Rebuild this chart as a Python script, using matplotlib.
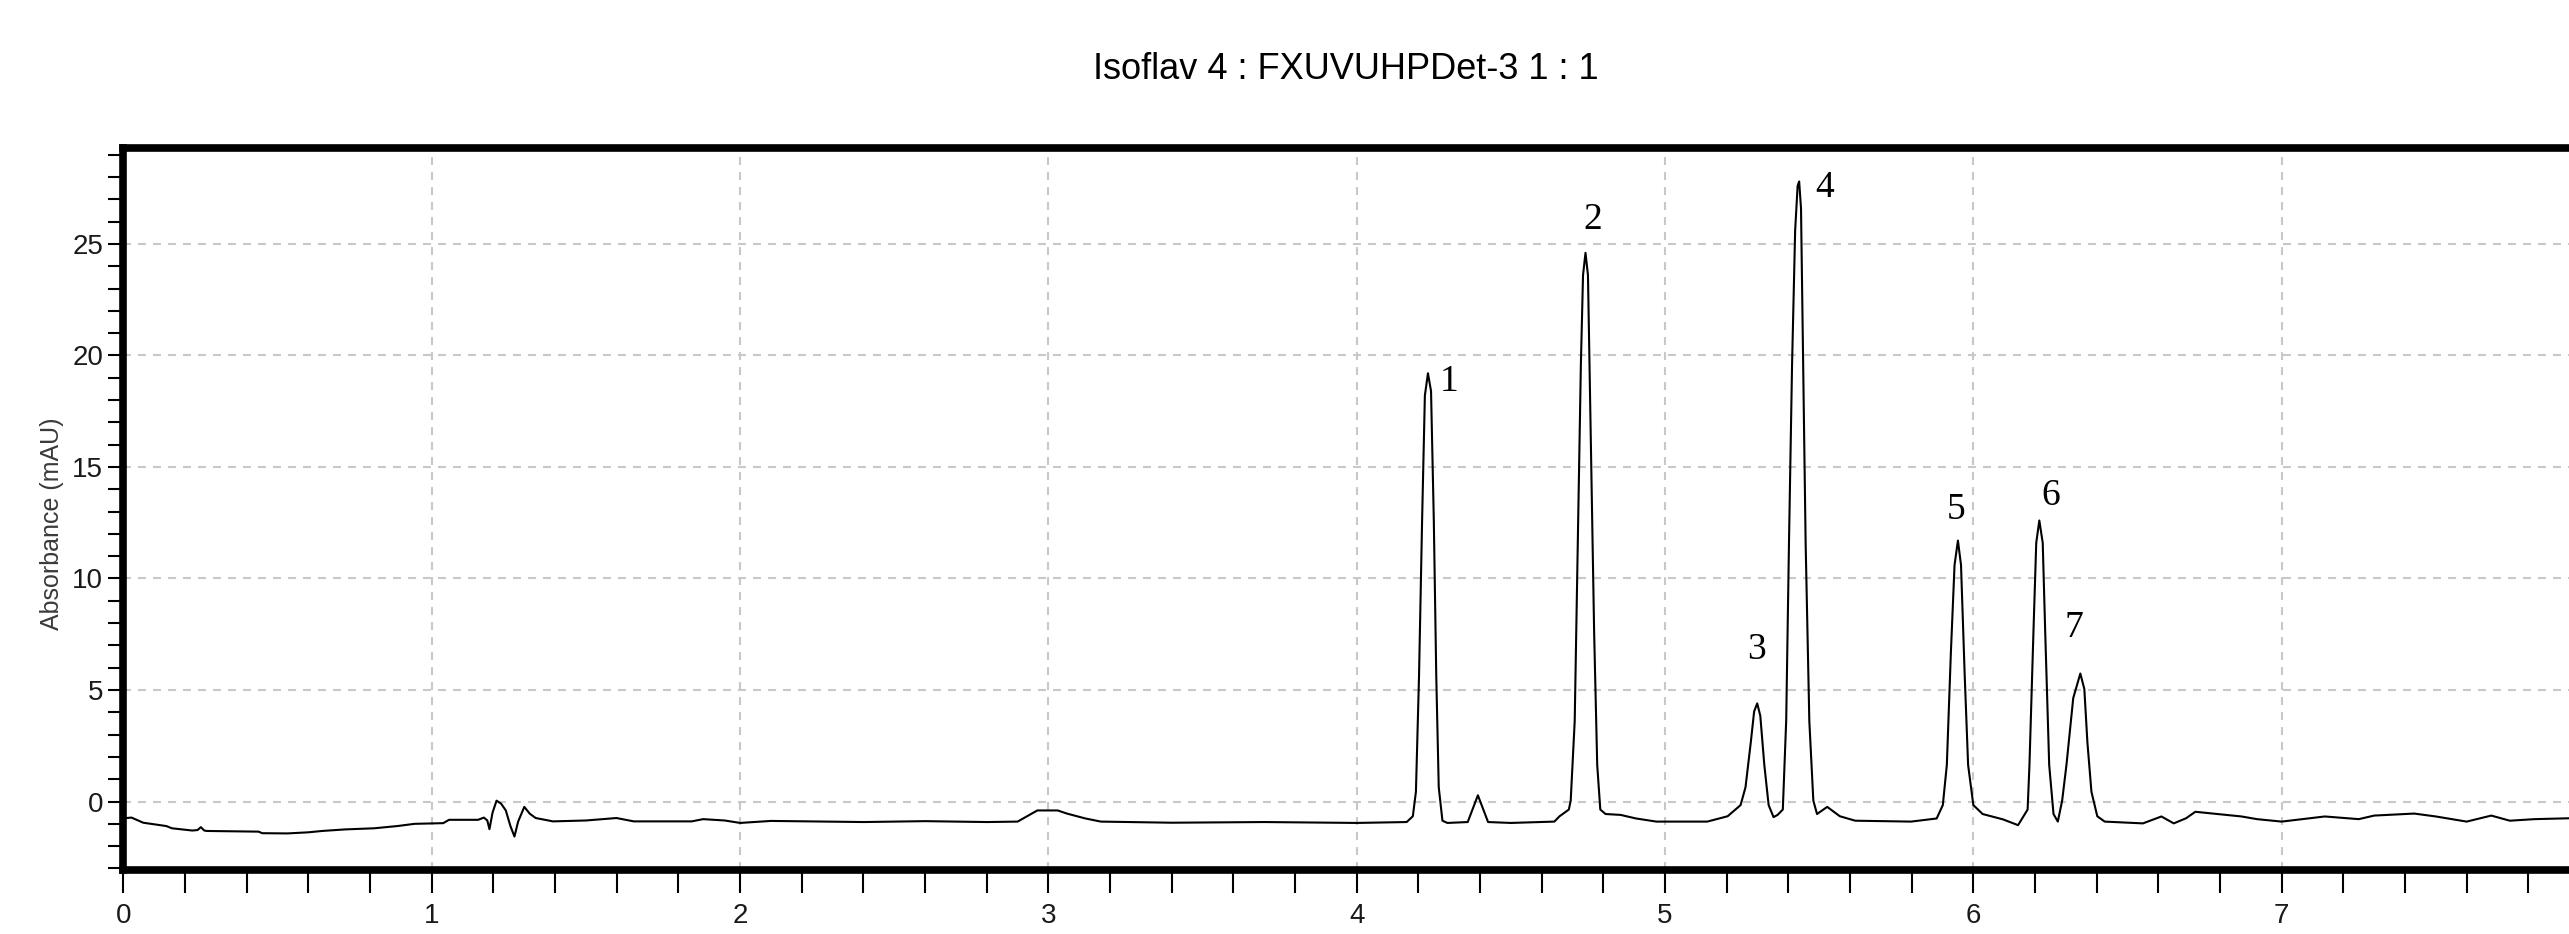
import matplotlib
matplotlib.use('Agg')
import matplotlib.pyplot as plt
from matplotlib import font_manager
from matplotlib.ticker import MultipleLocator

# chromatogram trace: time [min], absorbance [mAU]
czas = [0.000, 0.026, 0.064, 0.139, 0.157, 0.223, 0.240, 0.251, 0.262, 0.270,
        0.438, 0.450, 0.532, 0.600, 0.644, 0.719, 0.813, 0.888, 0.944, 1.037,
        1.056, 1.150, 1.169, 1.180, 1.187, 1.197, 1.210, 1.225, 1.240, 1.255,
        1.268, 1.280, 1.300, 1.318, 1.337, 1.393, 1.500, 1.599, 1.655, 1.843,
        1.880, 1.950, 2.000, 2.100, 2.210, 2.400, 2.600, 2.800, 2.900, 2.964,
        3.030, 3.060, 3.120, 3.170, 3.400, 3.700, 4.000, 4.162, 4.182, 4.192,
        4.202, 4.212, 4.221, 4.231, 4.241, 4.250, 4.258, 4.266, 4.278, 4.294,
        4.360, 4.393, 4.426, 4.500, 4.641, 4.658, 4.688, 4.694, 4.707, 4.717,
        4.727, 4.734, 4.742, 4.750, 4.760, 4.770, 4.780, 4.790, 4.807, 4.856,
        4.906, 4.972, 5.137, 5.203, 5.245, 5.261, 5.278, 5.289, 5.299, 5.309,
        5.322, 5.336, 5.352, 5.365, 5.382, 5.393, 5.402, 5.412, 5.422, 5.430,
        5.435, 5.441, 5.448, 5.456, 5.468, 5.481, 5.493, 5.526, 5.567, 5.617,
        5.798, 5.881, 5.901, 5.914, 5.927, 5.939, 5.950, 5.960, 5.972, 5.983,
        6.000, 6.030, 6.096, 6.145, 6.176, 6.182, 6.195, 6.204, 6.214, 6.225,
        6.233, 6.246, 6.260, 6.274, 6.288, 6.302, 6.324, 6.347, 6.360, 6.370,
        6.383, 6.402, 6.426, 6.550, 6.610, 6.650, 6.690, 6.720, 6.790, 6.870,
        6.920, 7.000, 7.140, 7.250, 7.300, 7.430, 7.500, 7.600, 7.680, 7.740,
        7.820, 7.934]
absorbancja = [-0.75, -0.72, -0.95, -1.10, -1.20, -1.30, -1.28, -1.15, -1.30, -1.32,
               -1.35, -1.42, -1.43, -1.38, -1.32, -1.25, -1.20, -1.10, -1.00, -0.97,
               -0.82, -0.82, -0.72, -0.85, -1.24, -0.50, 0.04, -0.10, -0.40, -1.10,
               -1.57, -0.90, -0.24, -0.55, -0.74, -0.89, -0.85, -0.74, -0.89, -0.89,
               -0.79, -0.85, -0.96, -0.87, -0.89, -0.92, -0.88, -0.92, -0.90, -0.40,
               -0.40, -0.54, -0.76, -0.90, -0.95, -0.92, -0.96, -0.92, -0.66, 0.44,
               5.6, 12.6, 18.2, 19.2, 18.4, 12.6, 5.6, 0.64, -0.86, -0.96,
               -0.92, 0.28, -0.92, -0.96, -0.90, -0.66, -0.36, 0.04, 3.6, 11.6,
               19.6, 23.6, 24.6, 23.6, 15.6, 7.6, 1.64, -0.36, -0.56, -0.60,
               -0.76, -0.90, -0.90, -0.66, -0.16, 0.64, 2.64, 4.04, 4.4, 3.84,
               1.64, -0.16, -0.70, -0.60, -0.36, 3.64, 11.6, 19.6, 25.6, 27.6,
               27.8, 26.6, 19.6, 11.6, 3.6, 0.04, -0.56, -0.24, -0.66, -0.86,
               -0.90, -0.76, -0.16, 1.64, 6.64, 10.6, 11.7, 10.6, 5.64, 1.64,
               -0.16, -0.56, -0.80, -1.06, -0.36, 1.64, 7.64, 11.6, 12.6, 11.6,
               7.64, 1.64, -0.56, -0.90, 0.04, 1.64, 4.64, 5.74, 5.04, 2.64,
               0.44, -0.66, -0.90, -0.98, -0.67, -0.98, -0.75, -0.46, -0.56, -0.67,
               -0.79, -0.90, -0.67, -0.79, -0.63, -0.54, -0.67, -0.90, -0.63, -0.86,
               -0.79, -0.75]

# peak numbers and where they are written
piki = ['1', '2', '3', '4', '5', '6', '7']
piki_t = [4.300, 4.765, 5.298, 5.516, 5.944, 6.250, 6.326]
piki_y = [18.8, 26.1, 6.8, 27.5, 13.1, 13.7, 7.8]

tytul = 'Isoflav 4 : FXUVUHPDet-3 1 : 1'
os_y = 'Absorbance (mAU)'

nazwy = {f.name for f in font_manager.fontManager.ttflist}
waska = 'Liberation Sans Narrow' if 'Liberation Sans Narrow' in nazwy else 'Liberation Sans'

W, H = 2569, 934
fig = plt.figure(figsize=(W / 100, H / 100), dpi=100)
ax = fig.add_axes([123.5 / W, (H - 870) / H, (W - 123.5) / W, (870 - 148) / H])

ax.plot(czas, absorbancja, color='black', lw=1.5)
for n, t, y in zip(piki, piki_t, piki_y):
    ax.text(t, y, n, ha='center', va='center', fontsize=27,
            family='Liberation Serif', color='black')

ax.set_xlim(0, 7.932)
ax.set_ylim(-3.07, 29.3)
ax.xaxis.set_major_locator(MultipleLocator(1))
ax.xaxis.set_minor_locator(MultipleLocator(0.2))
ax.yaxis.set_major_locator(MultipleLocator(5))
ax.yaxis.set_minor_locator(MultipleLocator(1))

ax.grid(True, which='major', color='#c8c8c8', lw=1.5, linestyle=(0, (3.8, 3.4)))
ax.set_axisbelow(True)

for s in ['left', 'bottom', 'top']:
    ax.spines[s].set_linewidth(5.5)
ax.spines['right'].set_visible(False)

ax.tick_params(axis='x', which='both', direction='out', length=16.5, width=1.5, pad=7,
               colors='black', labelcolor='#1a1a1a', labelsize=20)
ax.tick_params(axis='y', which='both', direction='out', length=10.5, width=1.5, pad=4,
               colors='black', labelcolor='#1a1a1a', labelsize=20)
for lab in ax.get_xticklabels() + ax.get_yticklabels():
    lab.set_family(waska)

ax.set_title(tytul, fontsize=26, family='Liberation Sans', pad=50)
fig.text(52 / W, 1 - 524 / H, os_y, rotation=90, ha='center', va='center',
         fontsize=18, family='Liberation Sans', color='#3a3a3a')

fig.savefig('out.png', dpi=100)
